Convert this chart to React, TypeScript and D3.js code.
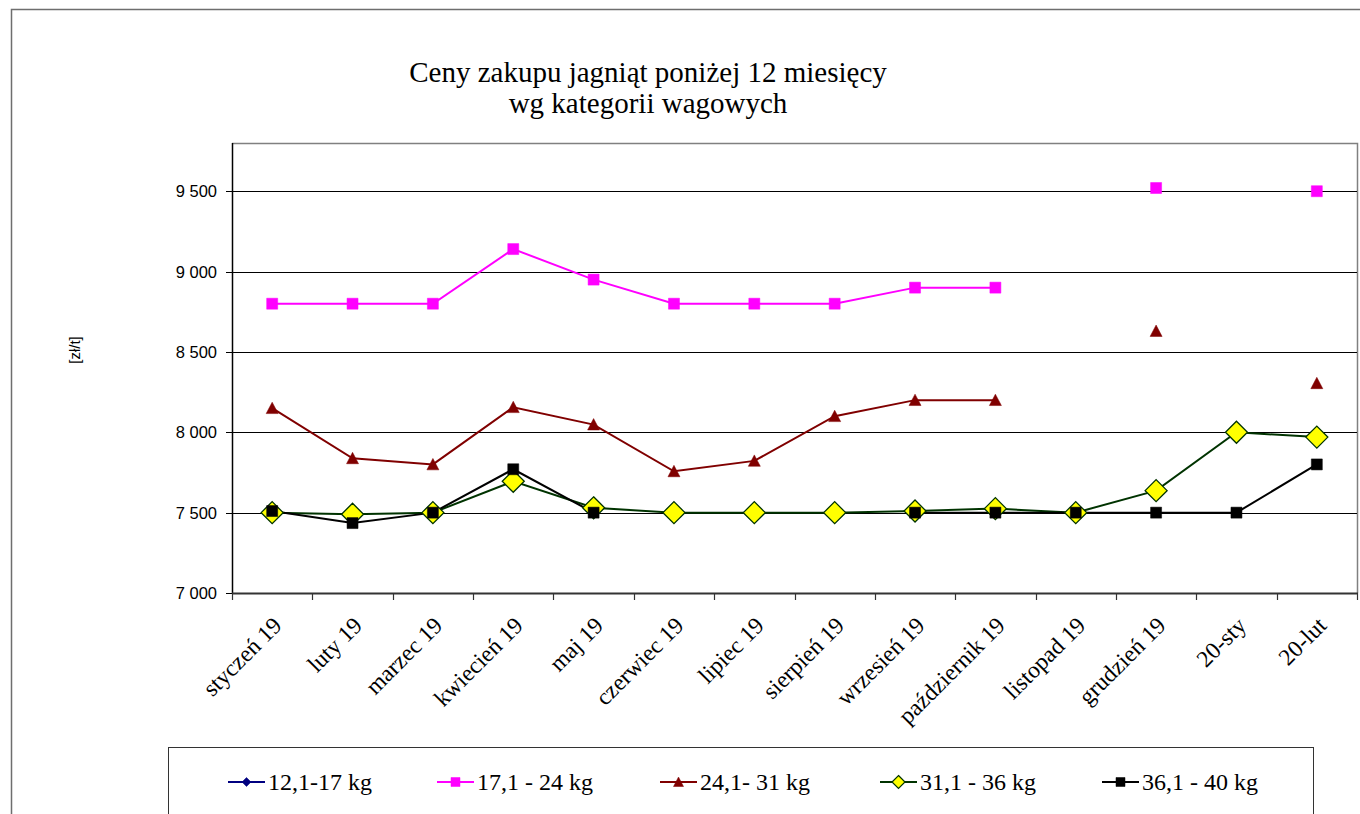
import * as d3 from "d3";

// categories (x axis)
const months: string[] = [
    "styczeń 19", "luty 19", "marzec 19", "kwiecień 19", "maj 19", "czerwiec 19", "lipiec 19",
    "sierpień 19", "wrzesień 19", "październik 19", "listopad 19", "grudzień 19", "20-sty", "20-lut",
];

// series values [zł/t], null = no data
const s12_17: (number | null)[] = [null, null, null, null, null, null, null, null, null, null, null, null, null, null];
const s17_24: (number | null)[] = [8800, 8800, 8800, 9140, 8950, 8800, 8800, 8800, 8900, 8900, null, 9520, null, 9500];
const s24_31: (number | null)[] = [8150, 7838, 7800, 8156, 8048, 7757, 7822, 8100, 8200, 8200, null, 8630, null, 8305];
const s31_36: (number | null)[] = [7500, 7490, 7500, 7695, 7530, 7500, 7500, 7500, 7510, 7525, 7500, 7637, 8000, 7970];
const s36_40: (number | null)[] = [7510, 7435, 7500, 7770, 7500, null, null, null, 7500, 7500, 7500, 7500, 7500, 7800];

const seriesNames: string[] = ["12,1-17 kg", "17,1 - 24 kg", "24,1- 31 kg", "31,1 - 36 kg", "36,1 - 40 kg"];
const yTicks: number[] = [7000, 7500, 8000, 8500, 9000, 9500];

type Marker = "diamondSmall" | "square" | "triangle" | "diamond";
interface ISeries { name: string; values: (number | null)[]; line: string; fill: string; stroke: string; marker: Marker; }

const series: ISeries[] = [
    { name: seriesNames[0], values: s12_17, line: "#000080", fill: "#000080", stroke: "#000080", marker: "diamondSmall" },
    { name: seriesNames[1], values: s17_24, line: "#FF00FF", fill: "#FF00FF", stroke: "#FF00FF", marker: "square" },
    { name: seriesNames[2], values: s24_31, line: "#800000", fill: "#800000", stroke: "#800000", marker: "triangle" },
    { name: seriesNames[3], values: s31_36, line: "#003300", fill: "#FFFF00", stroke: "#003300", marker: "diamond" },
    { name: seriesNames[4], values: s36_40, line: "#000000", fill: "#000000", stroke: "#000000", marker: "square" },
];

const plot = { left: 232, top: 143, right: 1357, bottom: 593 };
const legendX = [228, 437, 660, 880, 1102];

const fmt = d3.formatLocale({ decimal: ",", thousands: " ", grouping: [3], currency: ["", ""] }).format(",d");

function markerPath(m: Marker, s: number): string {
    // s = overall size in px
    const h = s / 2;
    if (m === "square") return `M${-h},${-h}H${h}V${h}H${-h}Z`;
    if (m === "triangle") return `M0,${-h}L${h},${h * 0.9}L${-h},${h * 0.9}Z`;
    return `M0,${-h}L${h},0L0,${h}L${-h},0Z`;
}
const markerSize: Record<Marker, number> = { diamondSmall: 9, square: 11, triangle: 12, diamond: 22 };
const legendMarkerSize: Record<Marker, number> = { diamondSmall: 9, square: 9, triangle: 10, diamond: 13 };

export default function App() {
    const xScale = d3.scaleBand<string>().domain(months).range([plot.left, plot.right]).padding(0);
    const cx = (c: string) => (xScale(c) as number) + xScale.bandwidth() / 2;
    const yScale = d3.scaleLinear().domain([7000, 9800]).range([plot.bottom, plot.top]);

    const line = d3
        .line<number | null>()
        .defined(d => d != null)
        .x((d, i) => cx(months[i]))
        .y(d => yScale(d as number));

    const tickXs = d3.range(months.length + 1).map(i => plot.left + i * xScale.bandwidth());

    return (
        <svg width={1360} height={814} style={{ position: "absolute", left: 0, top: 0, background: "#fff" }}>
            {/* outer chart frame */}
            <rect x={11.5} y={9.5} width={1400} height={900} fill="#fff" stroke="#6e6e6e" strokeWidth={1.5} />

            {/* title */}
            <text x={648} y={82} textAnchor="middle" fontFamily="'Liberation Serif', 'Times New Roman', serif" fontSize={29} fill="#000">
                Ceny zakupu jagniąt poniżej 12 miesięcy
            </text>
            <text x={648} y={113} textAnchor="middle" fontFamily="'Liberation Serif', 'Times New Roman', serif" fontSize={29} fill="#000">
                wg kategorii wagowych
            </text>

            {/* plot area border (top/right) */}
            <path d={`M${plot.left},${plot.top + 0.5}H${plot.right + 0.5}V${plot.bottom}`} fill="none" stroke="#808080" strokeWidth={1.5} />

            {/* grid lines */}
            {yTicks.filter(t => t > 7000).map(t => (
                <line key={t} x1={plot.left} x2={plot.right} y1={Math.round(yScale(t)) + 0.5} y2={Math.round(yScale(t)) + 0.5} stroke="#000" strokeWidth={1} shapeRendering="crispEdges" />
            ))}

            {/* y axis */}
            <line x1={plot.left + 0.5} x2={plot.left + 0.5} y1={plot.top} y2={plot.bottom} stroke="#000" strokeWidth={1.5} />
            {yTicks.map(t => (
                <g key={t}>
                    <line x1={plot.left - 6} x2={plot.left} y1={Math.round(yScale(t)) + 0.5} y2={Math.round(yScale(t)) + 0.5} stroke="#000" strokeWidth={1} />
                    <text x={plot.left - 15} y={yScale(t)} dy="0.36em" textAnchor="end" fontFamily="'Liberation Sans', Arial, sans-serif" fontSize={16.5} fill="#000">
                        {fmt(t)}
                    </text>
                </g>
            ))}
            <text transform="translate(80,350) rotate(-90)" textAnchor="middle" fontFamily="'Liberation Sans', Arial, sans-serif" fontSize={15} fill="#000">
                [zł/t]
            </text>

            {/* x axis */}
            <line x1={plot.left} x2={plot.right + 1} y1={plot.bottom + 0.5} y2={plot.bottom + 0.5} stroke="#333" strokeWidth={2} />
            {tickXs.map((x, i) => (
                <line key={i} x1={Math.round(x) + 0.5} x2={Math.round(x) + 0.5} y1={plot.bottom} y2={plot.bottom + 7} stroke="#333" strokeWidth={1.2} />
            ))}
            {months.map(m => (
                <text key={m} transform={`translate(${cx(m) + 11},${plot.bottom + 34}) rotate(-45)`} textAnchor="end" fontFamily="'Liberation Serif', 'Times New Roman', serif" fontSize={23.5} fill="#000">
                    {m}
                </text>
            ))}

            {/* series lines */}
            {series.map(s => (
                <path key={s.name + "-line"} d={line(s.values) || ""} fill="none" stroke={s.line} strokeWidth={2} />
            ))}
            {/* series markers */}
            {series.map(s => (
                <g key={s.name + "-marks"}>
                    {s.values.map((v, i) =>
                        v == null ? null : (
                            <path
                                key={i}
                                transform={`translate(${cx(months[i])},${yScale(v)})`}
                                d={markerPath(s.marker, markerSize[s.marker])}
                                fill={s.fill}
                                stroke={s.stroke}
                                strokeWidth={s.marker === "diamond" ? 1.3 : 0.5}
                            />
                        )
                    )}
                </g>
            ))}

            {/* legend */}
            <rect x={168.5} y={747.5} width={1145} height={120} fill="#fff" stroke="#333" strokeWidth={1} />
            {series.map((s, i) => (
                <g key={s.name + "-legend"} transform={`translate(${legendX[i]},782)`}>
                    <line x1={0} x2={37} y1={0} y2={0} stroke={s.line} strokeWidth={2} />
                    <path transform="translate(18.5,0)" d={markerPath(s.marker, legendMarkerSize[s.marker])} fill={s.fill} stroke={s.stroke} strokeWidth={s.marker === "diamond" ? 1.2 : 0.5} />
                    <text x={40} y={8} fontFamily="'Liberation Serif', 'Times New Roman', serif" fontSize={24} fill="#000">
                        {s.name}
                    </text>
                </g>
            ))}
        </svg>
    );
}
